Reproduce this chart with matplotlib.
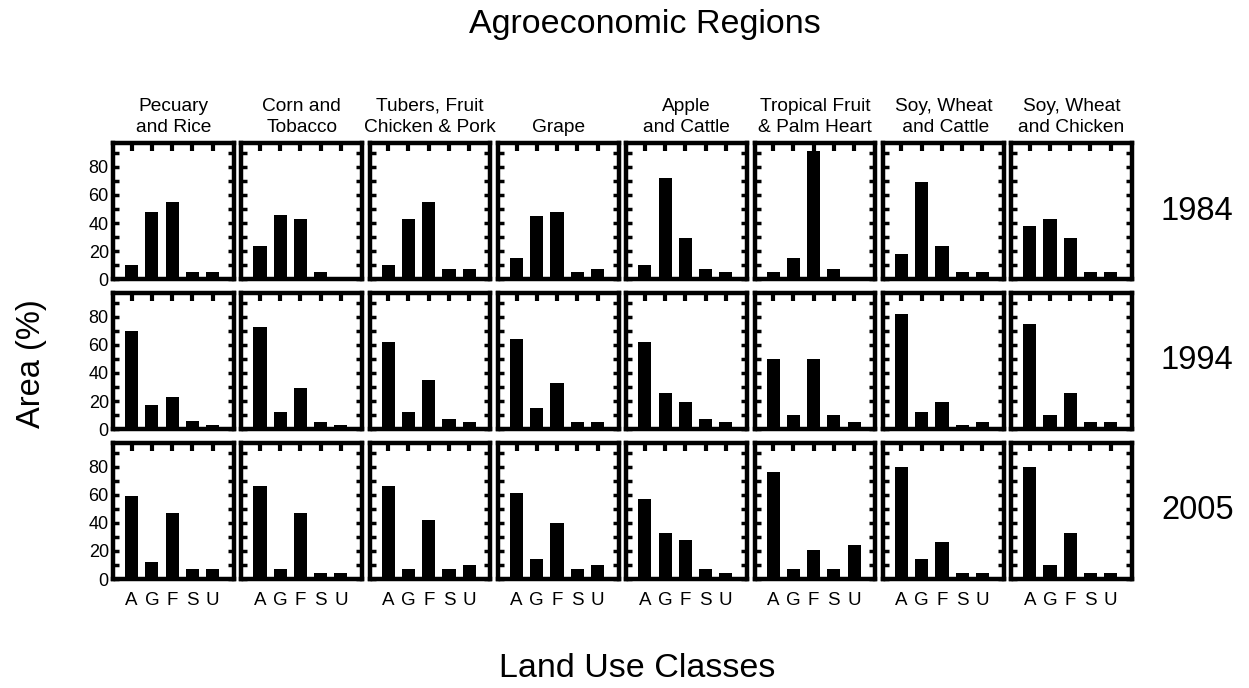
import matplotlib
matplotlib.use("Agg")
import matplotlib.pyplot as plt
import numpy as np

plt.rcParams['font.family'] = ['Liberation Sans', 'DejaVu Sans']

regions = ["Pecuary\nand Rice", "Corn and\nTobacco", "Tubers, Fruit\nChicken & Pork", "Grape",
           "Apple\nand Cattle", "Tropical Fruit\n& Palm Heart", "Soy, Wheat\n and Cattle",
           "Soy, Wheat\nand Chicken"]
years = ["1984", "1994", "2005"]
classes = ["A", "G", "F", "S", "U"]
yticks = [0, 20, 40, 60, 80]

area_1984 = [[10, 48, 55, 5, 5], [24, 46, 43, 5, 1], [10, 43, 55, 7, 7], [15, 45, 48, 5, 7],
             [10, 72, 29, 7, 5], [5, 15, 91, 7, 1], [18, 69, 24, 5, 5], [38, 43, 29, 5, 5]]
area_1994 = [[70, 17, 23, 6, 3], [73, 12, 29, 5, 3], [62, 12, 35, 7, 5], [64, 15, 33, 5, 5],
             [62, 26, 19, 7, 5], [50, 10, 50, 10, 5], [82, 12, 19, 3, 5], [75, 10, 26, 5, 5]]
area_2005 = [[59, 12, 47, 7, 7], [66, 7, 47, 4, 4], [66, 7, 42, 7, 10], [61, 14, 40, 7, 10],
             [57, 33, 28, 7, 4], [76, 7, 21, 7, 24], [80, 14, 26, 4, 4], [80, 10, 33, 4, 4]]
data = [area_1984, area_1994, area_2005]

fig, axes = plt.subplots(3, 8, figsize=(12.49, 6.88), dpi=100)
fig.subplots_adjust(left=0.0905, right=0.9063, top=0.7922, bottom=0.1584,
                    wspace=0.062, hspace=0.1)

x = np.arange(len(classes))
for r in range(3):
    for c in range(8):
        ax = axes[r, c]
        ax.bar(x, data[r][c], width=0.65, color='black')
        ax.set_xlim(-0.92, 5.05)
        ax.set_ylim(0, 97)
        for s in ax.spines.values():
            s.set_linewidth(3.2)
        ax.set_xticks(x)
        ax.set_xticklabels(classes if r == 2 else [])
        ax.tick_params(axis='x', which='both', direction='in', top=True, bottom=False,
                       length=6, width=3, labelsize=13.5, pad=9)
        ax.set_yticks(yticks)
        ax.set_yticks(np.arange(10, 100, 20), minor=True)
        ax.tick_params(axis='y', which='both', direction='in', left=True, right=True,
                       length=4, width=2.5, labelsize=13, pad=3)
        if c != 0:
            ax.set_yticklabels([])
        if r == 0:
            ax.set_title(regions[c], fontsize=13.8, pad=8, linespacing=1.3)
    axes[r, 7].text(1.54, 0.5, years[r], transform=axes[r, 7].transAxes,
                    fontsize=23.5, ha='center', va='center')

fig.text(0.516, 0.965, "Agroeconomic Regions", fontsize=24.5, ha='center', va='center')
fig.text(0.51, 0.028, "Land Use Classes", fontsize=24.5, ha='center', va='center')
fig.text(0.025, 0.472, "Area (%)", fontsize=23.5, ha='center', va='center', rotation=90)

fig.savefig("out.png", dpi=100)
